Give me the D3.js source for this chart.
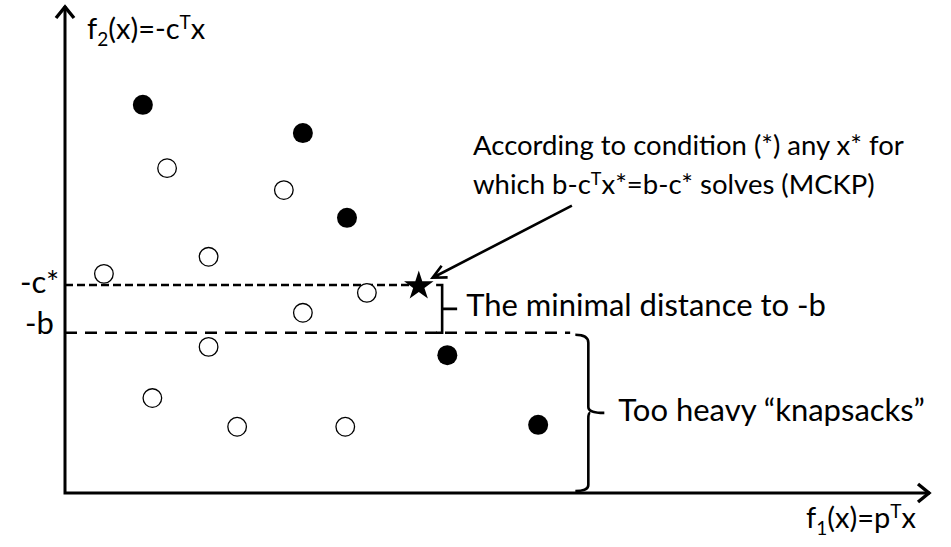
<!DOCTYPE html>
<html>
<head>
<meta charset="utf-8">
<script src="https://cdn.jsdelivr.net/npm/d3@7"></script>
<style>
  body { margin: 0; background: #fff; }
  text { font-family: Lato, "Open Sans", sans-serif; fill: #000; }
</style>
</head>
<body>
<div id="chart"></div>
<script>
// Bi-objective knapsack picture: f1 = p^T x (right), f2 = -c^T x (up)
const w = 951;
const h = 547;

// solutions (f1, f2 in 0..100 units)
const filledF1 = [9.0, 27.5, 32.6, 44.2, 54.7];
const filledF2 = [79.7, 73.9, 56.5, 28.3, 14.0];
const openF1 = [11.8, 25.3, 16.6, 4.5, 34.9, 27.5, 16.6, 10.1, 19.9, 32.4];
const openF2 = [66.7, 62.2, 48.5, 45.0, 41.1, 37.0, 30.0, 19.5, 13.6, 13.6];
const starF1 = 40.9;
const starF2 = 42.7;

// levels on the f2 axis
const levelNames = ["-c*", "-b"];
const levelValues = [42.7, 32.9];
const levelEnds = [39.9, 58.4];

// bracket positions (f1) and annotation texts
const bracketF1 = [43.6, 60.5];
const noteLines = [
  "According to condition (*) any x* for",
  "which b-c",
];

const x = d3.scaleLinear().domain([0, 100]).range([65, 930]);
const y = d3.scaleLinear().domain([0, 100]).range([493, 6]);

const svg = d3
  .select("#chart")
  .append("svg")
  .attr("width", w)
  .attr("height", h);

// axes with arrow heads
svg
  .append("path")
  .attr("d", `M${x(0)},${y(100)} L${x(0)},${y(0)} L${x(100)},${y(0)}`)
  .attr("fill", "none")
  .attr("stroke", "#000")
  .attr("stroke-width", 3);

svg
  .append("path")
  .attr(
    "d",
    `M${x(0) - 9},${y(100) + 12} L${x(0)},${y(100) + 1} L${x(0) + 9},${y(100) + 12}` +
      ` M${x(100) - 12},${y(0) - 9} L${x(100) - 1},${y(0)} L${x(100) - 12},${y(0) + 9}`
  )
  .attr("fill", "none")
  .attr("stroke", "#000")
  .attr("stroke-width", 3.4);

// axis labels
const yLab = svg.append("text").attr("x", 87).attr("y", 39).style("font-size", "29px");
yLab.append("tspan").text("f");
yLab.append("tspan").attr("dy", 7).style("font-size", "19px").text("2");
yLab.append("tspan").attr("dy", -7).text("(x)=-c");
yLab.append("tspan").attr("dy", -10).style("font-size", "19px").text("T");
yLab.append("tspan").attr("dy", 10).text("x");

const xLab = svg.append("text").attr("x", 806).attr("y", 528).style("font-size", "29px");
xLab.append("tspan").text("f");
xLab.append("tspan").attr("dy", 7).style("font-size", "19px").text("1");
xLab.append("tspan").attr("dy", -7).text("(x)=p");
xLab.append("tspan").attr("dy", -10).style("font-size", "19px").text("T");
xLab.append("tspan").attr("dy", 10).text("x");

// dashed levels
svg
  .selectAll("line.level")
  .data(levelValues)
  .enter()
  .append("line")
  .attr("class", "level")
  .attr("x1", x(0))
  .attr("x2", (d, i) => x(levelEnds[i]))
  .attr("y1", (d) => y(d))
  .attr("y2", (d) => y(d))
  .attr("stroke", "#000")
  .attr("stroke-width", 2.6)
  .attr("stroke-dasharray", (d, i) => (i === 0 ? "8,4" : "12,8"));

svg
  .selectAll("text.level")
  .data(levelValues)
  .enter()
  .append("text")
  .attr("class", "level")
  .attr("x", (d, i) => (i === 0 ? 20 : 25))
  .attr("y", (d, i) => y(d) + (i === 0 ? 8 : 1))
  .style("font-size", "31px")
  .text((d, i) => levelNames[i]);

// points
svg
  .selectAll("circle.open")
  .data(openF1)
  .enter()
  .append("circle")
  .attr("class", "open")
  .attr("cx", (d) => x(d))
  .attr("cy", (d, i) => y(openF2[i]))
  .attr("r", 9.3)
  .attr("fill", "#fff")
  .attr("stroke", "#000")
  .attr("stroke-width", 1.3);

svg
  .selectAll("circle.filled")
  .data(filledF1)
  .enter()
  .append("circle")
  .attr("class", "filled")
  .attr("cx", (d) => x(d))
  .attr("cy", (d, i) => y(filledF2[i]))
  .attr("r", 10)
  .attr("fill", "#000");

svg
  .append("path")
  .attr("d", d3.symbol(d3.symbolStar, 270)())
  .attr("transform", `translate(${x(starF1)},${y(starF2) + 1})`)
  .attr("fill", "#000");

// brackets
const b1 = x(bracketF1[0]);
const t1 = y(levelValues[0]);
const e1 = y(levelValues[1]);
svg
  .append("path")
  .attr(
    "d",
    `M${b1 - 6},${t1} L${b1},${t1} L${b1},${e1} L${b1 - 6},${e1}` +
      ` M${b1},${(t1 + e1) / 2} L${b1 + 15},${(t1 + e1) / 2}`
  )
  .attr("fill", "none")
  .attr("stroke", "#000")
  .attr("stroke-width", 2.6);

const b2 = x(bracketF1[1]);
const t2 = y(levelValues[1]) + 2;
const e2 = y(0) - 2;
const m2 = (t2 + e2) / 2;
svg
  .append("path")
  .attr(
    "d",
    `M${b2 - 13},${t2} Q${b2},${t2} ${b2},${t2 + 8} L${b2},${m2 - 6} Q${b2},${m2} ${b2 + 16},${m2}` +
      ` M${b2 + 2},${m2} Q${b2},${m2} ${b2},${m2 + 6} L${b2},${e2 - 6} Q${b2},${e2} ${b2 - 13},${e2}`
  )
  .attr("fill", "none")
  .attr("stroke", "#000")
  .attr("stroke-width", 2.6);

svg
  .append("text")
  .attr("x", b1 + 24)
  .attr("y", (t1 + e1) / 2 + 7)
  .style("font-size", "31px")
  .text("The minimal distance to -b");

svg
  .append("text")
  .attr("x", b2 + 30)
  .attr("y", m2 + 8)
  .style("font-size", "31px")
  .text("Too heavy \u201cknapsacks\u201d");

// note above, with arrow to the star
svg
  .append("text")
  .attr("x", 473)
  .attr("y", 155)
  .style("font-size", "27.5px")
  .text(noteLines[0]);

const note2 = svg.append("text").attr("x", 473).attr("y", 194).style("font-size", "27.5px");
note2.append("tspan").text(noteLines[1]);
note2.append("tspan").attr("dy", -9).style("font-size", "18px").text("T");
note2.append("tspan").attr("dy", 9).text("x*=b-c* solves (MCKP)");

const a0 = [x(58.6), y(59.0)];
const a1 = [x(42.5), y(44.2)];
const ang = Math.atan2(a1[1] - a0[1], a1[0] - a0[0]);
const hl = 15;
svg
  .append("path")
  .attr(
    "d",
    `M${a0[0]},${a0[1]} L${a1[0]},${a1[1]}` +
      ` M${a1[0] - hl * Math.cos(ang - 0.45)},${a1[1] - hl * Math.sin(ang - 0.45)}` +
      ` L${a1[0]},${a1[1]} L${a1[0] - hl * Math.cos(ang + 0.45)},${a1[1] - hl * Math.sin(ang + 0.45)}`
  )
  .attr("fill", "none")
  .attr("stroke", "#000")
  .attr("stroke-width", 2.6);
</script>
</body>
</html>
